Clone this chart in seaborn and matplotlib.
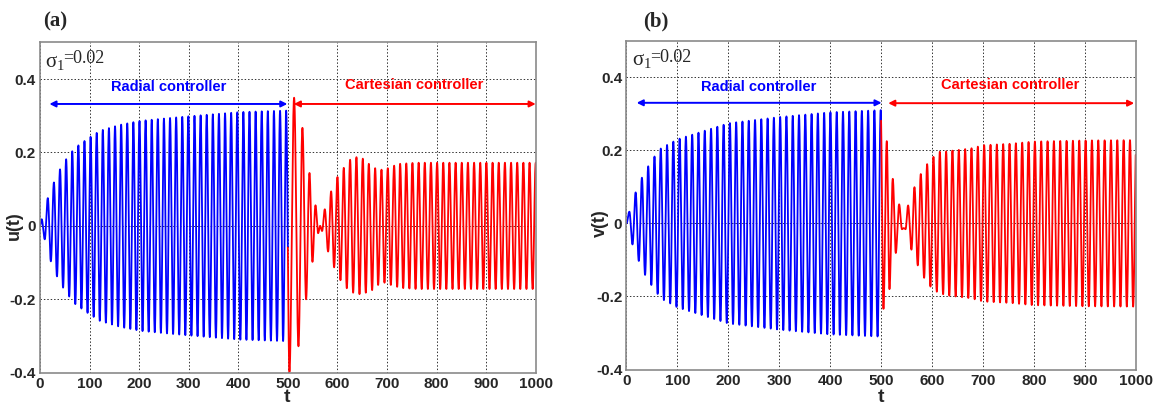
import numpy as np
import pandas as pd
import matplotlib
matplotlib.use("Agg")
import matplotlib.pyplot as plt
import seaborn as sns

# ---------------- data ----------------
# panel (a): u(t)
A_BLUE_FIRST_PEAK = 3.4
A_BLUE_PERIOD = 12.33
A_BLUE_ENV_T = [0, 3.4, 10, 15, 22, 28, 34, 40, 46, 52, 58, 65, 71, 98, 121, 161,
                202, 256, 296, 350, 404, 497]
A_BLUE_ENV_AMP = [0, 0.018, 0.038, 0.073, 0.097, 0.118, 0.137, 0.153, 0.167, 0.180,
                  0.191, 0.203, 0.213, 0.239, 0.259, 0.275, 0.286, 0.293, 0.298,
                  0.304, 0.310, 0.314]
A_RED_EXT_T = [503.2, 512.6, 521.4, 529.4, 536.8, 543.6, 549.6, 555.7, 561.0, 565.1,
               569.1, 574.5, 581.2, 587.3, 593.3, 600.1, 606.1, 612.8, 618.9, 625.6,
               631.7, 638.4, 644.5, 651.2, 657.2, 663.3, 670.0, 676.1, 682.1, 688.9,
               694.9, 701.6, 707.7, 714.4, 720.5, 726.5]
A_RED_EXT_V = [-0.398, 0.349, -0.328, 0.267, -0.200, 0.144, -0.098, 0.056, -0.020, 0.000,
               -0.014, 0.045, -0.070, 0.094, -0.113, 0.133, -0.148, 0.158, -0.170, 0.180,
               -0.182, 0.187, -0.186, 0.183, -0.182, 0.169, -0.175, 0.157, -0.161, 0.153,
               -0.155, 0.157, -0.161, 0.164, -0.166, 0.169]
A_RED_HALF = 6.216
A_RED_ENV_T = [726.5, 760, 1012]
A_RED_ENV_AMP = [0.169, 0.172, 0.172]

# panel (b): v(t)
B_BLUE_FIRST_PEAK = 5.6
B_BLUE_PERIOD = 12.34
B_BLUE_ENV_T = [0, 5.6, 12.1, 18, 25.2, 31.1, 37.7, 44.2, 50.1, 56.6, 62.5, 68.4, 75,
                100, 200, 300, 400, 500]
B_BLUE_ENV_AMP = [0, 0.032, 0.059, 0.085, 0.106, 0.128, 0.144, 0.160, 0.171, 0.187,
                  0.195, 0.207, 0.211, 0.230, 0.274, 0.291, 0.304, 0.310]
B_RED_EXT_T = [504.6, 511.1, 516.4, 522.9, 528.8, 535.4, 541.0, 544.5, 548.0, 553.0,
               559.6, 565.5, 572.0, 577.9, 584.5, 590.4, 596.9, 602.8, 609.4, 615.3,
               621.8, 627.7]
B_RED_EXT_V = [-0.234, 0.225, -0.180, 0.122, -0.081, 0.052, -0.016, -0.013, -0.016, 0.049,
               -0.072, 0.099, -0.115, 0.135, -0.149, 0.162, -0.173, 0.182, -0.187, 0.196,
               -0.194, 0.197]
B_RED_HALF = 6.225
B_RED_ENV_T = [627.7, 676, 701, 755, 799, 900, 1012]
B_RED_ENV_AMP = [0.197, 0.205, 0.214, 0.218, 0.224, 0.227, 0.228]

X_TICKS = [0, 100, 200, 300, 400, 500, 600, 700, 800, 900, 1000]
Y_TICKS = [-0.4, -0.2, 0, 0.2, 0.4]
Y_TICK_LABELS = ["-0.4", "-0.2", "0", "0.2", "0.4"]
PANEL_LABELS = ["(a)", "(b)"]
Y_LABELS = ["u(t)", "v(t)"]
SWITCH_T = 500


# ---------------- helpers ----------------
def regular_extrema(t_start, t_stop, half, env_t, env_amp, first_sign):
    times = np.arange(t_start, t_stop, half)
    signs = first_sign * (-1.0) ** np.arange(len(times))
    return times, signs * np.interp(times, env_t, env_amp)


def through_extrema(ext_t, ext_v, t):
    ext_t = np.asarray(ext_t)
    ext_v = np.asarray(ext_v)
    idx = np.clip(np.searchsorted(ext_t, t, side="right") - 1, 0, len(ext_t) - 2)
    t0, t1 = ext_t[idx], ext_t[idx + 1]
    v0, v1 = ext_v[idx], ext_v[idx + 1]
    s = np.clip((t - t0) / (t1 - t0), 0, 1)
    return v0 + (v1 - v0) * (1 - np.cos(np.pi * s)) / 2


def build(first_peak, period, env_t, env_amp, red_t, red_v, red_half, red_env_t, red_env_amp):
    bt, bv = regular_extrema(first_peak, SWITCH_T, period / 2, env_t, env_amp, 1.0)
    bt = np.concatenate([[0.0], bt])
    bv = np.concatenate([[0.0], bv])
    st, sv = regular_extrema(red_t[-1] + red_half, 1012, red_half, red_env_t, red_env_amp,
                             -np.sign(red_v[-1]))
    et = np.concatenate([bt, red_t, st])
    ev = np.concatenate([bv, red_v, sv])
    t = np.linspace(0, 1000, 20001)
    y = through_extrema(et, ev, t)
    return pd.DataFrame({"t": t, "y": y})


df_a = build(A_BLUE_FIRST_PEAK, A_BLUE_PERIOD, A_BLUE_ENV_T, A_BLUE_ENV_AMP,
             A_RED_EXT_T, A_RED_EXT_V, A_RED_HALF, A_RED_ENV_T, A_RED_ENV_AMP)
df_b = build(B_BLUE_FIRST_PEAK, B_BLUE_PERIOD, B_BLUE_ENV_T, B_BLUE_ENV_AMP,
             B_RED_EXT_T, B_RED_EXT_V, B_RED_HALF, B_RED_ENV_T, B_RED_ENV_AMP)

# ---------------- figure ----------------
sns.set_style("white")
plt.rcParams["font.family"] = ["Liberation Sans", "DejaVu Sans"]
plt.rcParams["mathtext.fontset"] = "custom"
plt.rcParams["mathtext.rm"] = "Liberation Serif"
plt.rcParams["mathtext.it"] = "Liberation Serif"

fig = plt.figure(figsize=(11.56, 4.08), dpi=100)
rects = [[40 / 1156, 1 - 372.7 / 408, 495.7 / 1156, 330.4 / 408],
         [626.5 / 1156, 1 - 369.5 / 408, 509.2 / 1156, 328.8 / 408]]
panel_xy = [(43 / 1156, 1 - 21 / 408), (643 / 1156, 1 - 21 / 408)]
ylabel_x = [14 / 1156, 600 / 1156]
arrow_cfg = [
    dict(blue=(19, 499, 0.332), red=(512, 1000, 0.332), btxt=(260, 0.378), rtxt=(754, 0.385)),
    dict(blue=(20, 501, 0.330), red=(514, 997, 0.329), btxt=(260, 0.374), rtxt=(753, 0.380)),
]

for i, df in enumerate([df_a, df_b]):
    ax = fig.add_axes(rects[i])
    blue = df[df["t"] <= SWITCH_T]
    red = df[df["t"] >= SWITCH_T]
    sns.lineplot(data=blue, x="t", y="y", color="#0000ff", lw=1.3, ax=ax,
                 estimator=None, sort=False)
    sns.lineplot(data=red, x="t", y="y", color="#ff0000", lw=1.3, ax=ax,
                 estimator=None, sort=False)
    ax.set_xlim(0, 1000)
    ax.set_ylim(-0.4, 0.5)
    ax.set_xticks(X_TICKS)
    ax.set_xticklabels([str(v) for v in X_TICKS])
    ax.set_yticks(Y_TICKS)
    ax.set_yticklabels(Y_TICK_LABELS)
    ax.grid(True, linestyle=(0, (1.5, 2)), color="#333333", lw=0.7)
    ax.set_axisbelow(True)
    for s in ax.spines.values():
        s.set_color("#8a8a8a")
        s.set_linewidth(1.2)
    ax.tick_params(axis="both", direction="in", length=3, color="#555555", pad=3)
    for lab in ax.get_xticklabels() + ax.get_yticklabels():
        lab.set_fontweight("bold")
        lab.set_fontsize(11)
    ax.set_xlabel("")
    ax.set_ylabel("")
    fig.text((rects[i][0] + rects[i][2] / 2) + (-1 / 1156 if i == 0 else 0), 2 / 408, "t",
             fontsize=14, fontweight="bold", ha="center", va="bottom")
    fig.text(ylabel_x[i], (rects[i][1] + rects[i][3] * 4 / 9), Y_LABELS[i], rotation=90,
             fontsize=13, fontweight="bold", ha="center", va="center")
    fig.text(panel_xy[i][0], panel_xy[i][1], PANEL_LABELS[i], fontsize=15,
             fontweight="bold", family="Liberation Serif", va="center", ha="left")
    ax.text(11, 0.445, r"$\mathregular{\sigma_1}$", fontsize=15, ha="left", va="center",
            family="Liberation Serif")
    ax.text(46, 0.455, "=0.02", fontsize=13, ha="left", va="center",
            family="Liberation Serif")
    cfg = arrow_cfg[i]
    b0, b1, by = cfg["blue"]
    r0, r1, ry = cfg["red"]
    ax.annotate("", xy=(b1, by), xytext=(b0, by),
                arrowprops=dict(arrowstyle="<|-|>", color="#0000ff", lw=1.4,
                                mutation_scale=9, shrinkA=0, shrinkB=0))
    ax.annotate("", xy=(r1, ry), xytext=(r0, ry),
                arrowprops=dict(arrowstyle="<|-|>", color="#ff0000", lw=1.4,
                                mutation_scale=9, shrinkA=0, shrinkB=0))
    ax.text(cfg["btxt"][0], cfg["btxt"][1], "Radial controller", color="#0000ff",
            fontsize=10.5, fontweight="bold", ha="center", va="center")
    ax.text(cfg["rtxt"][0], cfg["rtxt"][1], "Cartesian controller", color="#ff0000",
            fontsize=10.5, fontweight="bold", ha="center", va="center")

fig.savefig("out.png", dpi=100)
